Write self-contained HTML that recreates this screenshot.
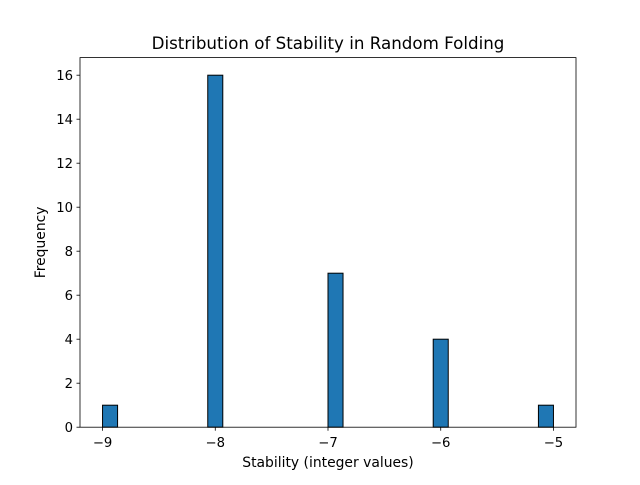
<!DOCTYPE html>
<html><head><meta charset="utf-8"><style>
body{margin:0;background:#fff;}
svg text{font-family:"DejaVu Sans","Liberation Sans",sans-serif;fill:#000;}
</style></head><body>
<svg id="chart" width="640" height="480" viewBox="0 0 640 480" xmlns="http://www.w3.org/2000/svg">
<rect width="640" height="480" fill="#fff"/>
<text x="328" y="49" font-size="16.7" text-anchor="middle">Distribution of Stability in Random Folding</text>
<g id="bars"></g>
<g id="axes"></g>
<text x="328" y="467" font-size="13.9" text-anchor="middle">Stability (integer values)</text>
<text transform="translate(45,242.4) rotate(-90)" font-size="13.9" text-anchor="middle">Frequency</text>
</svg>
<script>
const values = [-9, -8, -7, -6, -5];
const counts = [1, 16, 7, 4, 1];
const xTicks = [-9, -8, -7, -6, -5];
const yTicks = [0, 2, 4, 6, 8, 10, 12, 14, 16];

const L=80,R=576,T=57.6,B=427.2;
const binCount=30;
const dmin=Math.min(...values), dmax=Math.max(...values);
const binW=(dmax-dmin)/binCount;
const pad=(dmax-dmin)*0.05;
const x0=dmin-pad,x1=dmax+pad;
const ymax=Math.max(...counts)*1.05;
const sx=v=>L+(v-x0)/(x1-x0)*(R-L);
const sy=v=>B-v/ymax*(B-T);
const NS="http://www.w3.org/2000/svg";
const bars=document.getElementById('bars'), axes=document.getElementById('axes');
function mk(tag,attrs,parent){const e=document.createElementNS(NS,tag);for(const k in attrs)e.setAttribute(k,attrs[k]);parent.appendChild(e);return e;}
values.forEach((v,i)=>{
  let b=Math.floor((v-dmin)/binW+1e-9); if(b>=binCount)b=binCount-1;
  const a=dmin+b*binW;
  const r=mk('rect',{x:sx(a),y:sy(counts[i]),width:sx(a+binW)-sx(a),height:sy(0)-sy(counts[i]),fill:'#1f77b4',stroke:'#000','stroke-width':1},bars);
  
  
});
const frame=mk('rect',{x:L,y:T,width:R-L,height:B-T,fill:'none',stroke:'#000','stroke-width':0.8},axes);


xTicks.forEach(t=>{
  const x=sx(t);
  mk('line',{x1:x,x2:x,y1:B,y2:B+3.5,stroke:'#000','stroke-width':0.8},axes);
  const tx=mk('text',{x:x,y:B+20,'font-size':13.2,'text-anchor':'middle'},axes);
  tx.textContent='\u2212'+Math.abs(t);
  
  
});
yTicks.forEach(t=>{
  const y=sy(t);
  mk('line',{x1:L-3.5,x2:L,y1:y,y2:y,stroke:'#000','stroke-width':0.8},axes);
  const tx=mk('text',{x:L-7,y:y+4.8,'font-size':13.2,'text-anchor':'end'},axes);
  tx.textContent=t;
  
  
});
</script>
</body></html>
